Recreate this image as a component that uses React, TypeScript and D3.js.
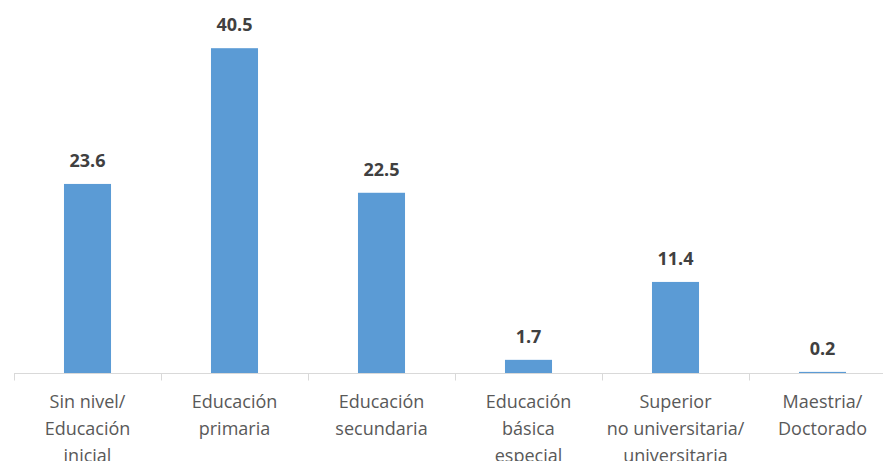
import React from "react";
import * as d3 from "d3";

const categories: string[][] = [
  ["Sin nivel/", "Educación", "inicial"],
  ["Educación", "primaria"],
  ["Educación", "secundaria"],
  ["Educación", "básica", "especial"],
  ["Superior", "no universitaria/", "universitaria"],
  ["Maestria/", "Doctorado"],
];
const values: number[] = [23.6, 40.5, 22.5, 1.7, 11.4, 0.2];
const valueLabels: string[] = ["23.6", "40.5", "22.5", "1.7", "11.4", "0.2"];

const W = 883;
const H = 461;
const left = 14;
const bandW = 147;
const baseY = 373.5;

export default function App() {
  const keys = categories.map((_, i) => String(i));
  const x = d3
    .scaleBand<string>()
    .domain(keys)
    .range([left, left + bandW * keys.length])
    .padding(0);
  const y = d3.scaleLinear().domain([0, 46.5]).range([baseY, 0]);
  const barW = x.bandwidth() * 0.32;
  const font = "'Open Sans', sans-serif";

  return (
    <svg
      width={W}
      height={H}
      style={{ position: "absolute", left: 0, top: 0, background: "#fff" }}
    >
      {values.map((v, i) => {
        const cx = (x(keys[i]) as number) + x.bandwidth() / 2;
        return (
          <g key={i}>
            <rect
              x={cx - barW / 2}
              y={y(v)}
              width={barW}
              height={baseY - y(v)}
              fill="#5B9BD5"
            />
            <text
              x={cx}
              y={y(v) - 17}
              textAnchor="middle"
              fontFamily={font}
              fontWeight={700}
              fontSize={18}
              fill="#404040"
            >
              {valueLabels[i]}
            </text>
            {categories[i].map((line, j) => (
              <text
                key={j}
                x={cx}
                y={408 + j * 27}
                textAnchor="middle"
                fontFamily={font}
                fontSize={18}
                fill="#595959"
              >
                {line}
              </text>
            ))}
          </g>
        );
      })}
      <line x1={left} x2={W} y1={baseY} y2={baseY} stroke="#d9d9d9" strokeWidth={1} />
      {keys.map((k) => (
        <line
          key={k}
          x1={(x(k) as number) + 0.5}
          x2={(x(k) as number) + 0.5}
          y1={baseY}
          y2={baseY + 7}
          stroke="#d9d9d9"
          strokeWidth={1}
        />
      ))}
    </svg>
  );
}
